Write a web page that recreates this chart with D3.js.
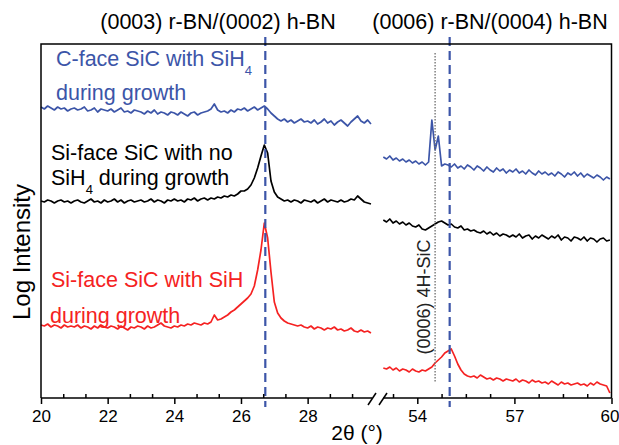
<!DOCTYPE html>
<html>
<head>
<meta charset="utf-8">
<script src="https://cdn.jsdelivr.net/npm/d3@7"></script>
<style>
  body { margin: 0; background: #fff; }
  svg text { font-family: "Liberation Sans", Arial, sans-serif; }
</style>
</head>
<body>
<div id="chart"></div>
<script>
// data (log intensity, arbitrary units, offset per sample)
// ---------------------------------------------------------
const leftStart = 20.0, rightStart = 52.95, step = 0.1;

const blueLeft = [
  291,289,292,290,288,291,289,290,287,289,
  290,288,289,291,287,288,290,286,289,288,
  287,289,286,288,290,286,287,285,288,287,
  286,284,287,285,288,284,286,285,283,286,
  285,283,286,284,282,285,286,283,285,286,
  287,289,294,288,286,287,285,288,286,289,
  288,290,287,289,291,288,290,292,289,285,
  282,279,277,279,276,278,275,277,279,276,
  277,275,278,274,276,279,275,277,273,276,
  278,275,272,276,279,282,277,275,278,274
];
const blackLeft = [
  197,196,198,197,195,197,198,196,197,195,
  197,198,196,195,197,199,196,197,195,198,
  196,197,199,196,198,195,197,198,196,197,
  198,196,197,199,196,198,197,195,198,197,
  199,197,198,196,199,198,200,197,199,200,
  198,200,199,201,200,202,201,203,202,204,
  207,207,209,213,220,230,242,253,245,217,
  206,201,199,197,198,196,198,197,195,198,
  197,196,198,195,197,199,196,198,197,196,
  198,196,197,199,198,202,199,196,195,194
];
const redLeft = [
  73,72,74,71,73,72,70,73,71,72,
  71,73,70,72,71,69,72,70,73,71,
  70,72,71,69,72,70,68,71,70,72,
  71,69,72,70,71,73,75,72,71,70,
  72,71,73,72,74,73,75,74,73,75,
  74,76,83,78,79,81,83,86,88,91,
  94,97,100,104,112,128,148,175,160,126,
  96,85,80,77,75,74,73,72,73,71,
  70,72,69,71,70,68,70,69,71,68,
  69,67,68,70,67,66,68,66,67,65
];

const blueRight = [
  241,239,242,238,240,237,239,236,238,235,
  237,234,236,233,236,278,248,262,232,234,
  233,231,234,230,232,229,233,231,228,232,
  230,227,231,228,226,230,227,229,225,228,
  226,229,225,227,224,228,225,223,227,224,
  226,223,225,222,226,224,221,225,223,226,
  222,225,221,224,222,220,223,221,218,221,
  219
];
const blackRight = [
  178,176,179,175,177,174,176,173,175,172,
  171,173,169,168,170,172,174,176,177,175,
  173,174,171,170,172,168,169,167,168,166,
  165,167,164,166,163,165,162,164,163,161,
  163,161,164,160,162,163,159,162,160,163,
  161,159,162,160,163,158,161,160,157,161,
  160,158,161,157,160,159,156,159,160,157,
  158
];
const redRight = [
  30,29,31,28,30,27,29,28,26,29,
  27,26,28,27,29,31,35,38,41,45,
  47,49,42,34,28,24,22,21,22,20,
  23,21,19,20,18,20,19,17,19,18,
  17,19,16,18,17,15,18,16,17,15,
  16,14,17,15,13,16,14,15,13,14,
  15,13,14,12,15,13,16,14,13,12,
  5
];

const leftMajor = [20, 22, 24, 26, 28];
const leftMinor = [20.667, 21.333, 22.667, 23.333, 24.667, 25.333, 26.667, 27.333, 28.667, 29.333];
const rightMajor = [54, 57, 60];
const rightMinor = [53.25, 54.75, 55.5, 56.25, 57.75, 58.5, 59.25];

const bnPeaks = [26.73, 55.0];   // r-BN / h-BN reference positions
const sicPeak = 54.55;           // (0006) 4H-SiC

// layout
// ---------------------------------------------------------
const width = 619, height = 445;
const plotLeft = 41, plotRight = 611.5, plotTop = 44, plotBottom = 398;
const blue = "#3c55a8", red = "#f52222", black = "#000";

let xLeft = d3.scaleLinear().domain([20, 30]).range([plotLeft, plotLeft + 333.3]);
let xRight = d3.scaleLinear().domain([54, 60]).range([417.3, plotRight]);
let y = d3.scaleLinear().domain([0, 354]).range([plotBottom, plotTop]);

let svg = d3.select("#chart").append("svg")
    .attr("width", width)
    .attr("height", height);

// traces
// ---------------------------------------------------------
const series = [
  { color: blue, left: blueLeft, right: blueRight },
  { color: black, left: blackLeft, right: blackRight },
  { color: red, left: redLeft, right: redRight }
];

function trace(scale, start) {
  return d3.line()
    .x((d, i) => scale(start + i * step))
    .y(d => y(d));
}

series.forEach(s => {
  svg.append("path")
      .attr("d", trace(xLeft, leftStart)(s.left))
      .attr("fill", "none")
      .attr("stroke", s.color)
      .attr("stroke-width", 1.7)
      .attr("stroke-linejoin", "round");
  svg.append("path")
      .attr("d", trace(xRight, rightStart)(s.right))
      .attr("fill", "none")
      .attr("stroke", s.color)
      .attr("stroke-width", 1.7)
      .attr("stroke-linejoin", "round");
});

// reference lines
// ---------------------------------------------------------
svg.append("line")
    .attr("x1", xLeft(bnPeaks[0])).attr("x2", xLeft(bnPeaks[0]))
    .attr("y1", 37).attr("y2", 407)
    .attr("stroke", blue).attr("stroke-width", 2.2)
    .attr("stroke-dasharray", "9,5");
svg.append("line")
    .attr("x1", xRight(bnPeaks[1])).attr("x2", xRight(bnPeaks[1]))
    .attr("y1", 37).attr("y2", 407)
    .attr("stroke", blue).attr("stroke-width", 2.2)
    .attr("stroke-dasharray", "9,5");
svg.append("line")
    .attr("x1", xRight(sicPeak)).attr("x2", xRight(sicPeak))
    .attr("y1", 53).attr("y2", 383)
    .attr("stroke", "#777").attr("stroke-width", 1.4)
    .attr("stroke-dasharray", "1.5,1.5");

// frame and axes
// ---------------------------------------------------------
let frame = svg.append("g")
    .attr("stroke", "#000")
    .attr("stroke-width", 1.5)
    .attr("fill", "none");
frame.append("path")
    .attr("d", `M${plotLeft},${plotBottom}V${plotTop}H${plotRight}V${plotBottom}`);
frame.append("line")
    .attr("x1", plotLeft).attr("x2", 372)
    .attr("y1", plotBottom).attr("y2", plotBottom);
frame.append("line")
    .attr("x1", 383).attr("x2", plotRight)
    .attr("y1", plotBottom).attr("y2", plotBottom);
// axis break marks
frame.append("line").attr("x1", 368).attr("y1", 405).attr("x2", 376).attr("y2", 393);
frame.append("line").attr("x1", 379).attr("y1", 405).attr("x2", 387).attr("y2", 393);

function drawAxis(scale, major, minor) {
  let gMajor = svg.append("g")
      .attr("transform", `translate(0,${plotBottom})`)
      .call(d3.axisBottom(scale).tickValues(major).tickSize(6).tickPadding(6)
        .tickFormat(d3.format("d")));
  gMajor.select(".domain").remove();
  gMajor.selectAll("line").attr("stroke-width", 1.5);
  gMajor.selectAll("text")
      .attr("font-size", 17)
      .attr("font-family", "Liberation Sans, Arial, sans-serif")
      .attr("fill", "#000");

  let gMinor = svg.append("g")
      .attr("transform", `translate(0,${plotBottom})`)
      .call(d3.axisBottom(scale).tickValues(minor).tickSize(-4).tickFormat(""));
  gMinor.select(".domain").remove();
  gMinor.selectAll("line").attr("stroke-width", 1.5);
  return gMajor;
}
drawAxis(xLeft, leftMajor, leftMinor);
let rightAxis = drawAxis(xRight, rightMajor, rightMinor);
// keep the last label inside the picture
rightAxis.selectAll("text").filter(d => d === 60).attr("dx", -2);

// text
// ---------------------------------------------------------
svg.append("text")
    .attr("x", 218).attr("y", 29)
    .attr("text-anchor", "middle")
    .attr("font-size", 21.5)
    .text("(0003) r-BN/(0002) h-BN");
svg.append("text")
    .attr("x", 490).attr("y", 29)
    .attr("text-anchor", "middle")
    .attr("font-size", 21.5)
    .text("(0006) r-BN/(0004) h-BN");

svg.append("text")
    .attr("transform", "translate(430,297) rotate(-90)")
    .attr("text-anchor", "middle")
    .attr("font-size", 18)
    .attr("fill", "#222")
    .text("(0006) 4H-SiC");

svg.append("text")
    .attr("transform", "translate(30,252) rotate(-90)")
    .attr("text-anchor", "middle")
    .attr("font-size", 24)
    .text("Log Intensity");

svg.append("text")
    .attr("x", 357).attr("y", 440)
    .attr("text-anchor", "middle")
    .attr("font-size", 21)
    .text("2\u03b8 (\u00b0)");

function label(x, yPos, color, main, sub, rest) {
  let t = svg.append("text")
      .attr("x", x).attr("y", yPos)
      .attr("font-size", 21.5)
      .attr("fill", color);
  t.append("tspan").text(main);
  if (sub) {
    t.append("tspan").attr("font-size", 13).attr("dy", 9).text(sub);
    if (rest) t.append("tspan").attr("dy", -9).text(rest);
  }
}
label(56, 66, blue, "C-face SiC with SiH", "4");
label(56, 100, blue, "during growth");
label(51, 160, black, "Si-face SiC with no");
label(51, 185, black, "SiH", "4", " during growth");
label(51, 287, red, "Si-face SiC with SiH");
label(50, 323, red, "during growth");
</script>
</body>
</html>
